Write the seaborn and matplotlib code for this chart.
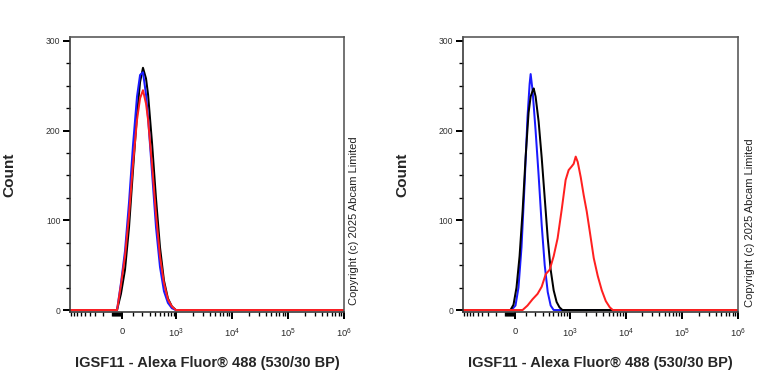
# Flow cytometry overlay histograms: IGSF11 - Alexa Fluor 488, two samples side by side
import matplotlib
matplotlib.use("Agg")
import matplotlib.pyplot as plt
import seaborn as sns
import pandas as pd
import numpy as np

OUTPUT_FILE = "out.png"

# ---- data (fluorescence value, count) ----
# left panel
left_x = [-946, -50, -14, 23, 60, 98, 140, 174, 209, 249, 278, 340, 411, 493, 588, 698, 828, 981, 1e6]
left_black = [0, 0, 18, 45, 92, 155, 218, 254, 270, 258, 240, 186, 124, 70, 33, 13, 4, 0, 0]
left_blue = [0, 0, 30, 66, 120, 183, 238, 262, 265, 240, 214, 153, 92, 48, 21, 8, 2, 0, 0]
left_red = [0, 0, 28, 60, 106, 162, 212, 236, 245, 230, 212, 162, 106, 60, 30, 12, 4, 0, 0]

# right panel
right_blue_x = [-946, -37, 0, 27, 55, 84, 113, 135, 146, 167, 203, 242, 285, 332, 384, 440, 504, 1e6]
right_blue = [0, 0, 5, 25, 70, 140, 215, 252, 263, 245, 200, 150, 95, 50, 20, 5, 0, 0]

right_black_x = [-946, -46, -18, 9, 37, 65, 94, 124, 146, 167, 180, 203, 242, 285, 332, 384,
                 440, 504, 574, 651, 739, 1e6]
right_black = [0, 0, 6, 25, 60, 110, 170, 220, 238, 244, 247, 238, 210, 170, 125, 80,
               45, 22, 9, 3, 0, 0]

right_red_x = [-946, 65, 113, 167, 228, 285, 349, 421, 504, 600, 716, 846, 961, 1089, 1186,
               1290, 1403, 1589, 1796, 2034, 2301, 2713, 3199, 3774, 4450, 5240, 5935, 1e6]
right_red = [0, 0, 5, 12, 18, 26, 40, 45, 60, 80, 112, 145, 156, 160, 163,
             171, 165, 148, 128, 110, 88, 58, 38, 22, 10, 3, 0, 0]

x_label = "IGSF11 - Alexa Fluor® 488 (530/30 BP)"
y_label = "Count"
copyright_text = "Copyright (c) 2025 Abcam Limited"

# biexponential-like display (arcsinh)
W = 221.0


def fwd(v):
    return np.arcsinh(np.asarray(v, dtype=float) / W)


def inv(u):
    return W * np.sinh(np.asarray(u, dtype=float))


sns.set_theme(style="white")
plt.rcParams["font.family"] = ["Liberation Sans", "DejaVu Sans"]
plt.rcParams["mathtext.fontset"] = "custom"
plt.rcParams["mathtext.rm"] = "Liberation Sans"

fig = plt.figure(figsize=(8, 4), dpi=96)
ax_l = fig.add_axes([0.0911, 0.1875, 0.3568, 0.7154])
ax_r = fig.add_axes([0.6025, 0.1875, 0.3585, 0.7154])

series = {
    ax_l: [(left_x, left_black, "black"), (left_x, left_blue, "#1a1aff"), (left_x, left_red, "#ff2020")],
    ax_r: [(right_blue_x, right_blue, "#1a1aff"), (right_black_x, right_black, "black"),
           (right_red_x, right_red, "#ff2020")],
}

major = [0, 1e3, 1e4, 1e5, 1e6]
major_labels = ["0", r"$\mathregular{10^3}$", r"$\mathregular{10^4}$",
                r"$\mathregular{10^5}$", r"$\mathregular{10^6}$"]
minor = ([-v for v in range(10, 100, 10)] + [-v for v in range(100, 1000, 100)]
         + list(range(100, 1000, 100)) + list(range(2000, 10000, 1000))
         + list(range(20000, 100000, 10000)) + list(range(200000, 1000000, 100000)))

for ax, lines in series.items():
    ax.set_xscale("function", functions=(fwd, inv))
    for xs, ys, col in lines:
        df = pd.DataFrame({"x": xs, "y": ys})
        sns.lineplot(data=df, x="x", y="y", color=col, linewidth=1.5,
                     estimator=None, sort=False, ax=ax)
    ax.set_xlim(-946, 1e6)
    ax.set_ylim(-2.2, 304)
    ax.set_xticks(major)
    ax.set_xticklabels(major_labels, fontsize=7)
    ax.set_xticks(minor, minor=True)
    ax.set_yticks([0, 100, 200, 300])
    ax.set_yticklabels(["0", "100", "200", "300"], fontsize=6.5, color="#333333")
    ax.set_yticks(np.arange(0, 301, 25), minor=True)
    ax.tick_params(axis="both", which="both", bottom=True, left=True, top=False, right=False)
    ax.tick_params(axis="both", which="major", direction="out", length=5, width=1.5,
                   color="black", pad=2)
    ax.tick_params(axis="both", which="minor", direction="out", length=3, width=1.0,
                   color="black")
    ax.tick_params(axis="x", which="major", pad=6)
    for side in ["top", "right"]:
        ax.spines[side].set_color("#555555")
        ax.spines[side].set_linewidth(1.2)
    for side in ["left", "bottom"]:
        ax.spines[side].set_color("#333333")
        ax.spines[side].set_linewidth(1.2)
    ax.set_xlabel(x_label, fontsize=11, fontweight="bold", labelpad=12)
    ax.set_ylabel(y_label, fontsize=11.5, fontweight="bold", labelpad=22)
    ax.grid(False)

fig.text(0.461, 0.424, copyright_text, rotation=90, fontsize=8.3, ha="center", va="center",
         color="#222222")
fig.text(0.977, 0.42, copyright_text, rotation=90, fontsize=8.3, ha="center", va="center",
         color="#222222")

plt.savefig(OUTPUT_FILE, dpi=96)
plt.close()
